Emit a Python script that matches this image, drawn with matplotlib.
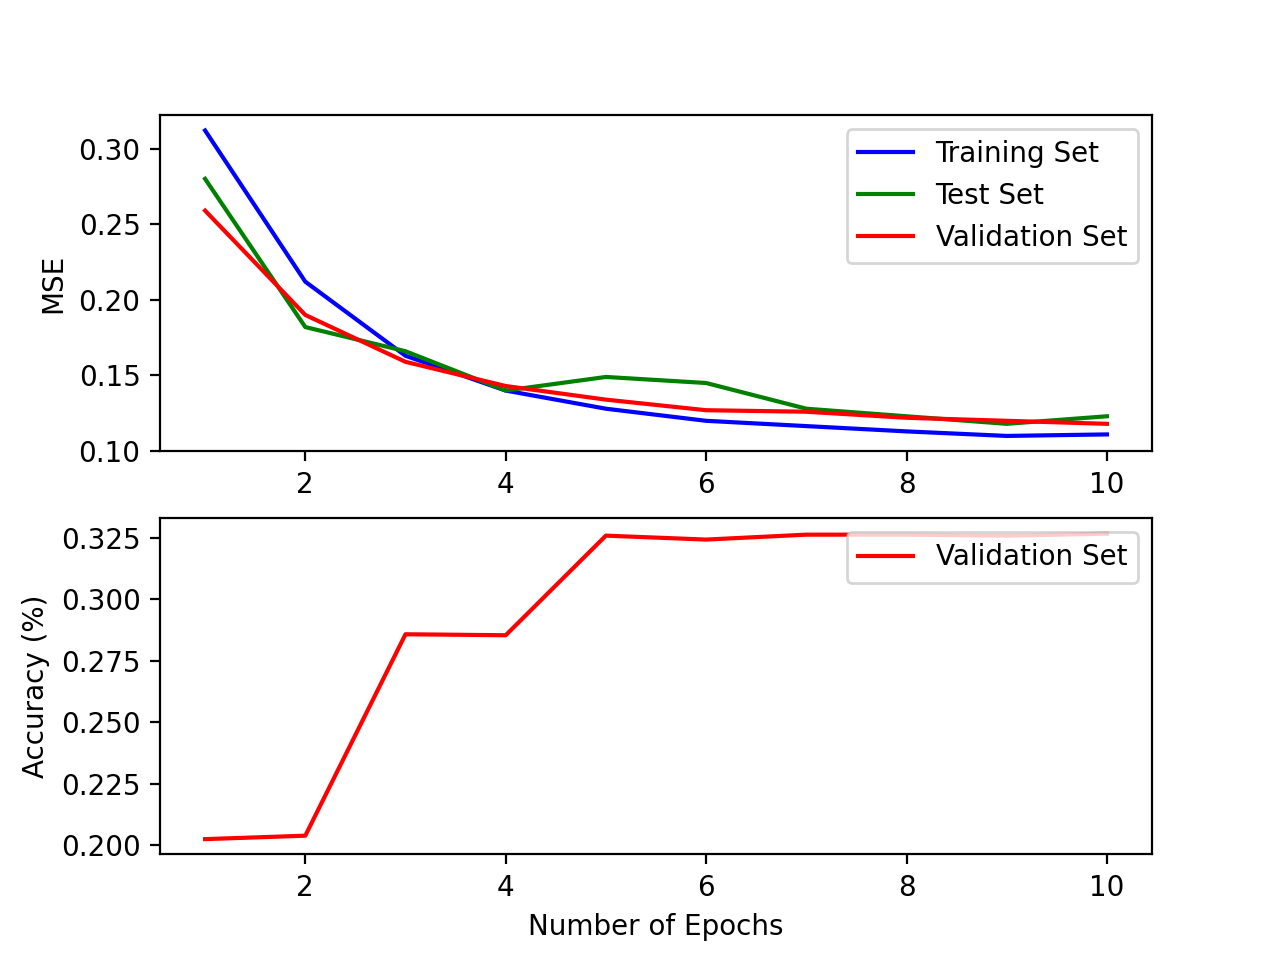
import matplotlib
matplotlib.use('Agg')
import matplotlib.pyplot as plt

epochs = list(range(1, 11))
train_mse = [0.312, 0.212, 0.163, 0.140, 0.128, 0.120, 0.1165, 0.113, 0.110, 0.111]
test_mse = [0.280, 0.182, 0.166, 0.140, 0.149, 0.145, 0.128, 0.123, 0.118, 0.123]
val_mse = [0.259, 0.190, 0.159, 0.143, 0.134, 0.127, 0.126, 0.122, 0.120, 0.118]
val_acc = [0.2024, 0.2038, 0.2857, 0.2853, 0.3258, 0.3242, 0.3262, 0.3262, 0.3258, 0.3266]

fig = plt.figure(figsize=(6.4, 4.8), dpi=200)
ax1 = plt.subplot(2, 1, 1)
ax1.plot(epochs, train_mse, 'b-', label='Training Set')
ax1.plot(epochs, test_mse, 'g-', label='Test Set')
ax1.plot(epochs, val_mse, 'r-', label='Validation Set')
ax1.set_ylabel('MSE')
ax1.legend(loc='upper right')

ax2 = plt.subplot(2, 1, 2)
ax2.plot(epochs, val_acc, 'r-', label='Validation Set')
ax2.set_ylabel('Accuracy (%)')
ax2.set_xlabel('Number of Epochs')
ax2.legend(loc='upper right')

plt.savefig('out.png')
